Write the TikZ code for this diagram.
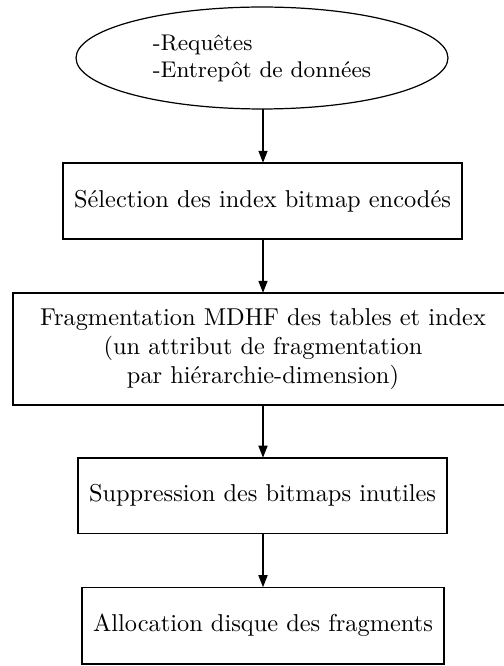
\documentclass[tikz,border=0pt]{standalone}
\usetikzlibrary{shapes.geometric,arrows.meta}
\begin{document}
\begin{tikzpicture}[x=0.41pt,y=-0.41pt,
  stepbox/.style={draw,rectangle,inner sep=0pt,outer sep=0pt,align=center,font=\fontsize{10}{12}\selectfont,line width=0.5pt},
  startnode/.style={draw,ellipse,inner sep=0pt,outer sep=0pt,align=left,font=\fontsize{9.3}{11.1}\selectfont,line width=0.5pt,minimum width=152.5pt,minimum height=41.8pt},
  flow/.style={line width=0.9pt,-{Triangle[length=5pt,width=3.6pt]}}]
\useasboundingbox (0,0) rectangle (503,666);
\node[startnode] (e) at (262,58) {-Requêtes\\-Entrepôt de données};
\node[stepbox,minimum width=163.6pt,minimum height=31.2pt] (b1) at (262.5,201) {Sélection des index bitmap encodés};
\node[stepbox,minimum width=205pt,minimum height=45.9pt] (b2) at (263,349) {Fragmentation MDHF des tables et index\\(un attribut de fragmentation\\par hiérarchie-dimension)};
\node[stepbox,minimum width=151.3pt,minimum height=31pt] (b3) at (262.5,495.7) {Suppression des bitmaps inutiles};
\node[stepbox,minimum width=148.4pt,minimum height=31.4pt] (b4) at (263,625.7) {Allocation disque des fragments};
\draw[flow] (e.south -| 263,0) -- (b1.north -| 263,0);
\draw[flow] (b1.south -| 263,0) -- (b2.north -| 263,0);
\draw[flow] (b2.south -| 263,0) -- (b3.north -| 263,0);
\draw[flow] (b3.south -| 263,0) -- (b4.north -| 263,0);
\end{tikzpicture}
\end{document}
